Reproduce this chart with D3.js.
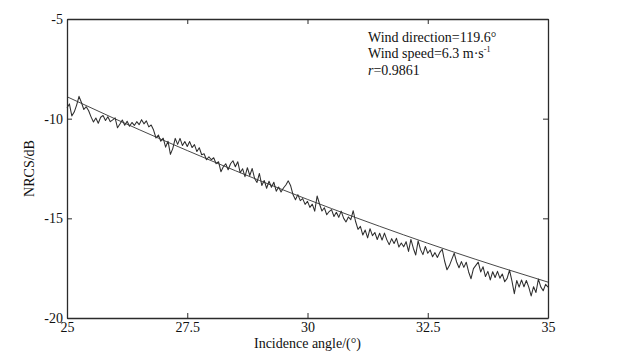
<!DOCTYPE html>
<html><head><meta charset="utf-8">
<script src="https://cdn.jsdelivr.net/npm/d3@7"></script>
<style>
html,body{margin:0;padding:0;background:#fff;}
svg text{font-family:"Liberation Serif","Times New Roman","DejaVu Serif",serif;fill:#111;}
</style></head>
<body><svg id="chart" width="619" height="358"></svg>
<script>
// ---- data ----
const angleStart = 25, angleStep = 0.05;
const nrcs = [
-9.45,-9.26,-9.86,-9.67,-9.32,-8.88,-9.19,-9.54,-9.40,-9.60,
-9.91,-10.17,-9.97,-10.23,-9.93,-9.84,-10.09,-9.90,-10.15,-10.06,
-9.96,-10.46,-10.27,-10.07,-10.33,-10.13,-10.38,-10.19,-10.34,-10.15,
-10.30,-10.05,-10.26,-10.11,-10.41,-10.32,-10.57,-10.97,-10.82,-11.13,
-10.98,-11.43,-11.13,-11.79,-11.49,-10.99,-11.29,-10.99,-11.35,-11.15,
-11.40,-11.15,-11.45,-11.30,-11.65,-11.46,-11.81,-11.76,-12.06,-11.91,
-12.06,-11.96,-12.26,-12.16,-12.66,-12.41,-12.26,-12.56,-12.26,-12.11,
-12.41,-12.16,-12.71,-12.51,-12.91,-12.46,-12.85,-12.50,-13.00,-13.20,
-12.75,-13.35,-13.10,-13.49,-13.14,-13.44,-13.19,-13.64,-13.43,-13.68,
-13.48,-13.33,-13.12,-13.37,-13.82,-14.07,-13.81,-14.11,-14.01,-14.30,
-14.15,-14.45,-14.29,-14.64,-13.88,-14.28,-14.63,-14.47,-14.82,-14.66,
-14.56,-14.91,-14.70,-14.95,-14.64,-14.99,-15.18,-14.93,-15.07,-14.62,
-15.16,-15.55,-15.40,-15.84,-15.59,-15.98,-15.52,-15.87,-15.71,-16.06,
-15.75,-16.09,-15.74,-16.08,-16.32,-16.02,-16.26,-16.00,-16.44,-16.24,
-16.43,-16.17,-16.66,-16.06,-16.50,-16.84,-16.13,-16.57,-16.82,-16.41,
-16.75,-16.59,-16.93,-16.72,-16.96,-16.71,-16.55,-17.14,-17.58,-17.37,
-17.06,-16.75,-17.19,-17.48,-17.17,-17.46,-17.20,-17.69,-18.03,-17.52,
-17.36,-17.20,-17.69,-17.43,-17.92,-17.66,-18.09,-17.68,-17.97,-17.66,
-18.00,-17.79,-18.18,-18.01,-17.60,-18.14,-18.78,-18.12,-18.45,-18.09,
-18.43,-18.12,-18.45,-18.89,-18.43,-18.72,-18.05,-18.44,-18.63,-18.31,-18.45
];
const fitAngles = [25,26,27,28,29,30,31,32,33,34,35];
const fitValues = [-8.90,-10.01,-11.08,-12.11,-13.10,-14.05,-14.96,-15.83,-16.66,-17.45,-18.20];
const xTicks = [25,27.5,30,32.5,35];
const xTickLabels = ["25","27.5","30","32.5","35"];
const yTicks = [-20,-15,-10,-5];
const yTickLabels = ["-20","-15","-10","-5"];
const annotation = ["Wind direction=119.6°","Wind speed=6.3 m·s","r=0.9861"];

// ---- layout ----
const L = 67, R = 548, T = 19, B = 318;
const FS = 14;
const svg = d3.select("#chart");
const x = d3.scaleLinear().domain([25,35]).range([L,R]);
const y = d3.scaleLinear().domain([-20,-5]).range([B,T]);
const frame = "#2b2b2b";

// data line
const pts = nrcs.map((v,i)=>[angleStart+i*angleStep, v]);
svg.append("path").datum(pts)
  .attr("d", d3.line().x(d=>x(d[0])).y(d=>y(d[1])))
  .attr("fill","none").attr("stroke","#2e2e2e").attr("stroke-width",1.05).attr("stroke-linejoin","round");
// fit line
svg.append("path").datum(fitAngles.map((a,i)=>[a,fitValues[i]]))
  .attr("d", d3.line().curve(d3.curveNatural).x(d=>x(d[0])).y(d=>y(d[1])))
  .attr("fill","none").attr("stroke","#333").attr("stroke-width",0.9);

// axes
const fmtX = d => xTickLabels[xTicks.indexOf(d)];
const fmtY = d => yTickLabels[yTicks.indexOf(d)];
const gB = svg.append("g").attr("transform",`translate(0,${B})`)
  .call(d3.axisBottom(x).tickValues(xTicks).tickFormat(fmtX).tickSizeInner(-5).tickSizeOuter(0).tickPadding(4));
const gL = svg.append("g").attr("transform",`translate(${L},0)`)
  .call(d3.axisLeft(y).tickValues(yTicks).tickFormat(fmtY).tickSizeInner(-5).tickSizeOuter(0).tickPadding(4));
const gT = svg.append("g").attr("transform",`translate(0,${T})`)
  .call(d3.axisTop(x).tickValues(xTicks).tickFormat("").tickSizeInner(-5).tickSizeOuter(0));
const gR = svg.append("g").attr("transform",`translate(${R},0)`)
  .call(d3.axisRight(y).tickValues(yTicks).tickFormat("").tickSizeInner(-5).tickSizeOuter(0));
[gB,gL,gT,gR].forEach(g=>{
  g.selectAll(".domain").attr("stroke",frame).attr("stroke-width",1.3);
  g.selectAll(".tick line").attr("stroke",frame).attr("stroke-width",1);
  g.selectAll("text").attr("font-family","Liberation Serif").attr("font-size",FS).attr("fill","#111");
});

// axis titles
svg.append("text").attr("x",(L+R)/2).attr("y",348).attr("text-anchor","middle")
  .attr("font-size",FS).text("Incidence angle/(°)");
svg.append("text").attr("transform",`translate(34,${(T+B)/2}) rotate(-90)`).attr("text-anchor","middle")
  .attr("font-size",FS).text("NRCS/dB");

// annotation
const ax = 368;
svg.append("text").attr("x",ax).attr("y",42).attr("font-size",FS).text(annotation[0]);
const t2 = svg.append("text").attr("x",ax).attr("y",58).attr("font-size",FS);
t2.append("tspan").text(annotation[1]);
t2.append("tspan").attr("font-size",8).attr("dy",-6).text("-1");
const t3 = svg.append("text").attr("x",ax).attr("y",75).attr("font-size",FS);
t3.append("tspan").attr("font-style","italic").text(annotation[2].slice(0,1));
t3.append("tspan").text(annotation[2].slice(1));
</script></body></html>
